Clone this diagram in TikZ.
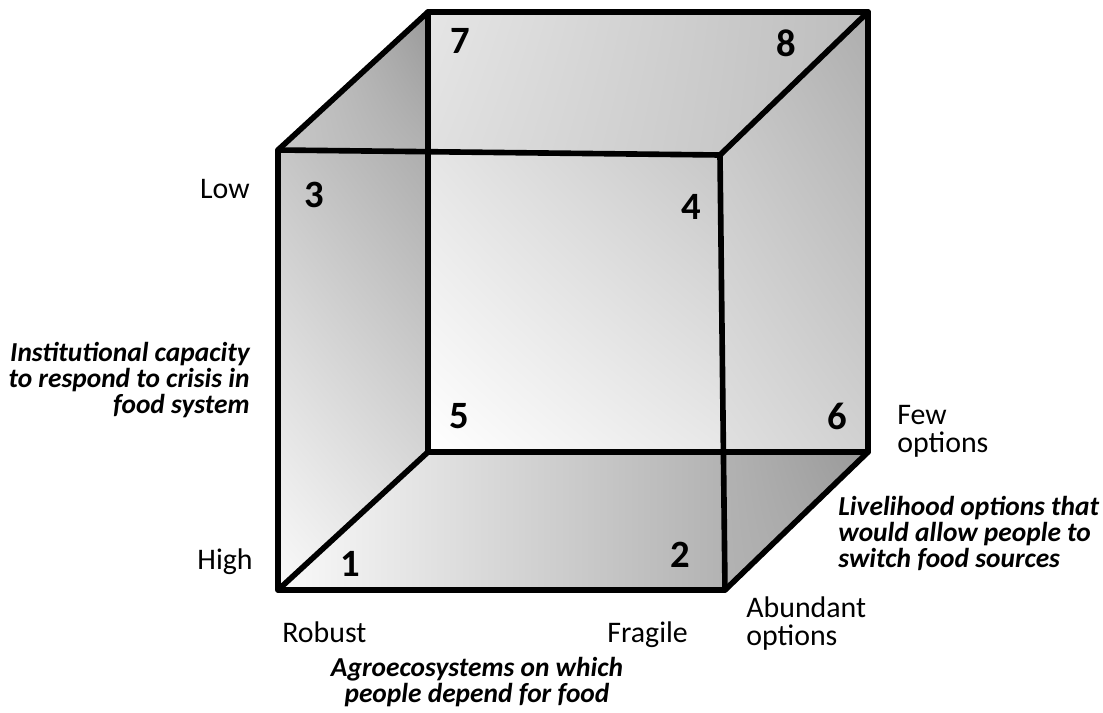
\documentclass[tikz,border=0pt]{standalone}
\usepackage{fontspec}
\setmainfont{Carlito}
\usetikzlibrary{shadings}
\begin{document}
\begin{tikzpicture}[x=0.02cm,y=-0.02cm,
  edge/.style={line width=3.2pt,line join=round,line cap=round},
  lab/.style={font=\fontsize{17}{15.5}\selectfont,inner sep=0pt},
  num/.style={font=\fontsize{22}{24}\selectfont\bfseries,inner sep=0pt},
  axis/.style={font=\fontsize{15.6}{14.6}\selectfont\bfseries\itshape,inner sep=0pt}]
\useasboundingbox (0,0) rectangle (1103,713);
% cube vertices
\coordinate (A) at (278,590);
\coordinate (B) at (725,590);
\coordinate (C) at (720,155);
\coordinate (D) at (278,150);
\coordinate (E) at (428,452);
\coordinate (F) at (868,452);
\coordinate (G) at (868,12);
\coordinate (H) at (428,12);
\coordinate (P1) at (428,152);
\coordinate (P2) at (723,452);
% shaded regions
\shade[upper left=black!22,upper right=black!32,lower left=black!2,lower right=black!10]
  (D) -- (P1) -- (E) -- (A) -- cycle;
\shade[upper left=black!20,upper right=black!40,lower left=black!22,lower right=black!30]
  (D) -- (H) -- (P1) -- cycle;
\shade[upper left=black!10,upper right=black!26,lower left=black!12,lower right=black!26]
  (H) -- (G) -- (C) -- (P1) -- cycle;
\shade[upper left=black!10,upper right=black!22,lower left=black!0,lower right=black!9]
  (P1) -- (C) -- (P2) -- (E) -- cycle;
\shade[upper left=black!24,upper right=black!32,lower left=black!12,lower right=black!18]
  (C) -- (G) -- (F) -- (P2) -- cycle;
\shade[left color=black!2,right color=black!30]
  (E) -- (P2) -- (B) -- (A) -- cycle;
\shade[upper left=black!30,upper right=black!40,lower left=black!30,lower right=black!34]
  (P2) -- (F) -- (B) -- cycle;
% edges
\draw[edge] (A) -- (B) -- (C) -- (D) -- cycle;
\draw[edge] (E) -- (F) -- (G) -- (H) -- cycle;
\draw[edge] (A) -- (E);
\draw[edge] (B) -- (F);
\draw[edge] (C) -- (G);
\draw[edge] (D) -- (H);
% numbers
\node[num] (n1) at (350,564) {1};
\node[num] (n2) at (680,555) {2};
\node[num] (n3) at (314,195) {3};
\node[num] (n4) at (691,207) {4};
\node[num] (n5) at (459,416) {5};
\node[num] (n6) at (837,416) {6};
\node[num] (n7) at (460,41) {7};
\node[num] (n8) at (786,43) {8};
% labels
\node[lab,anchor=base east] (low) at (250,198) {Low};
\node[lab,anchor=base east] (high) at (253,569) {High};
\node[lab,anchor=base west] (robust) at (282,642) {Robust};
\node[lab,anchor=base west] (fragile) at (607,642) {Fragile};
\node[lab,anchor=base west,align=left] (abund) at (746,645) {Abundant\\options};
\node[lab,anchor=base west,align=left] (few) at (897,452) {Few\\options};
% axis titles
\node[axis,anchor=base east,align=right] (inst) at (250,413)
  {Institutional capacity\\to respond to crisis in\\food system};
\node[axis,anchor=base,align=center] (agro) at (477,702)
  {Agroecosystems on which\\people depend for food};
\node[axis,anchor=base west,align=left] (live) at (838,567)
  {Livelihood options that\\would allow people to\\switch food sources};
\end{tikzpicture}
\end{document}
